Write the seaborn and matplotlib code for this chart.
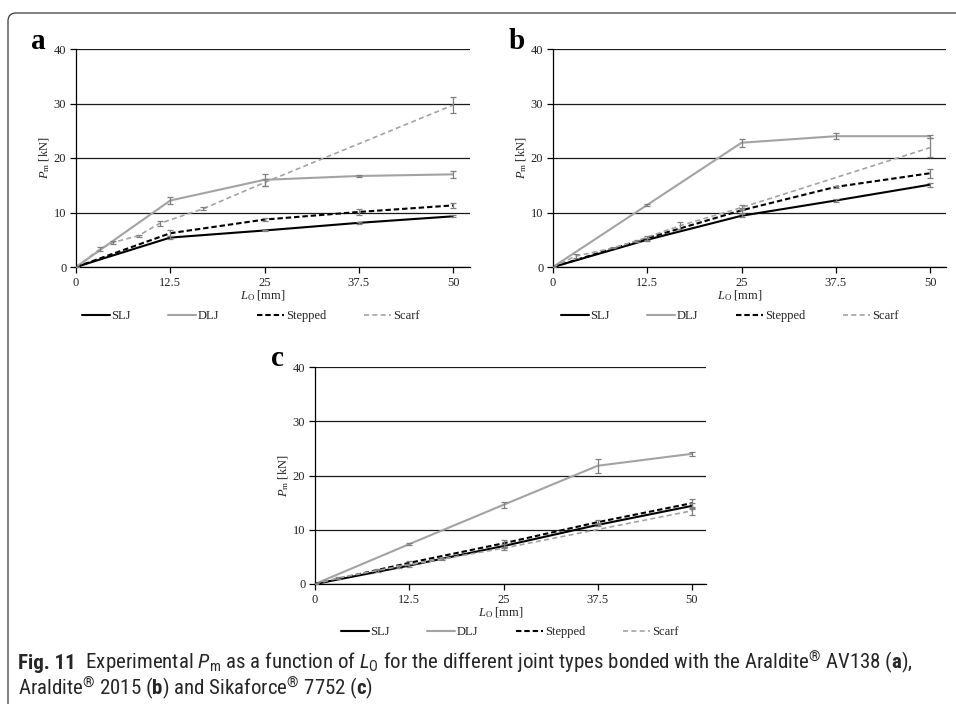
import matplotlib
matplotlib.use("Agg")
import matplotlib.pyplot as plt
import seaborn as sns
import numpy as np
from matplotlib import font_manager
from matplotlib.path import Path
from matplotlib.patches import PathPatch

# ---------------- data ----------------
x_main = [0, 12.5, 25, 37.5, 50]

a_slj = [0, 5.4, 6.7, 8.1, 9.3]
a_slj_err = [0, 0.3, 0.15, 0.15, 0.2]
a_dlj = [0, 12.2, 16.0, 16.7, 17.0]
a_dlj_err = [0, 0.6, 1.1, 0.1, 0.7]
a_stepped = [0, 6.2, 8.7, 10.1, 11.3]
a_stepped_err = [0, 0.5, 0.3, 0.5, 0.5]
a_scarf_x = [0, 3.2, 4.9, 8.3, 11.1, 16.9, 25, 50]
a_scarf = [0, 3.3, 4.5, 5.75, 8.0, 10.7, 15.5, 29.7]
a_scarf_err = [0, 0.4, 0.2, 0.2, 0.5, 0.3, 0.6, 1.5]

b_slj = [0, 5.0, 9.4, 12.2, 15.1]
b_slj_err = [0, 0.3, 0.3, 0.3, 0.4]
b_dlj = [0, 11.4, 22.8, 24.0, 24.0]
b_dlj_err = [0, 0.2, 0.7, 0.5, 0.3]
b_stepped = [0, 5.3, 10.4, 14.7, 17.2]
b_stepped_err = [0, 0.4, 0.4, 0.2, 0.8]
b_scarf_x = [0, 3.0, 8.0, 11.1, 16.9, 25, 50]
b_scarf = [0, 2.0, 3.5, 4.8, 7.6, 10.9, 21.9]
b_scarf_err = [0, 0.3, 0.1, 0.2, 0.7, 0.5, 1.7]

c_slj = [0, 3.4, 7.0, 10.9, 14.4]
c_slj_err = [0, 0.3, 0.3, 0.3, 0.5]
c_dlj = [0, 7.35, 14.6, 21.8, 24.0]
c_dlj_err = [0, 0.2, 0.6, 1.3, 0.4]
c_stepped = [0, 3.9, 7.5, 11.4, 14.9]
c_stepped_err = [0, 0.3, 0.6, 0.4, 0.8]
c_scarf_x = [0, 3.1, 8.3, 11.1, 16.9, 25, 50]
c_scarf = [0, 1.1, 2.5, 3.2, 4.6, 6.6, 13.5]
c_scarf_err = [0, 0.2, 0.2, 0.3, 0.2, 0.3, 0.7]

series_names = ["SLJ", "DLJ", "Stepped", "Scarf"]
x_ticks = [0, 12.5, 25, 37.5, 50]
x_tick_labels = ["0", "12.5", "25", "37.5", "50"]
y_ticks = [0, 10, 20, 30, 40]
panel_letters = ["a", "b", "c"]

# ---------------- fonts ----------------
sns.set_theme(style="white")
avail = {f.name for f in font_manager.fontManager.ttflist}
capfont = "Liberation Sans Narrow" if "Liberation Sans Narrow" in avail else (
    "Roboto Condensed" if "Roboto Condensed" in avail else "Liberation Sans")
plt.rcParams["font.family"] = ["Liberation Serif", "DejaVu Serif"]
plt.rcParams["mathtext.fontset"] = "custom"
plt.rcParams["mathtext.rm"] = "Liberation Serif"
plt.rcParams["mathtext.it"] = "Liberation Serif:italic"
plt.rcParams["mathtext.sf"] = capfont + ":italic"
plt.rcParams["mathtext.bf"] = capfont + ":bold"

W, H = 956, 704
fig = plt.figure(figsize=(W / 100, H / 100), dpi=100)
fig.patch.set_facecolor("white")


def fx(px):
    return px / W


def fy(py):
    return 1 - py / H


BLACK = "#000000"
GREY = "#a3a3a3"
ERRC = "#7f7f7f"
TXT = "#222222"
FS = 9

styles = {
    "SLJ": dict(color=BLACK, lw=1.5, linestyle="-"),
    "DLJ": dict(color=GREY, lw=1.5, linestyle="-"),
    "Stepped": dict(color=BLACK, lw=1.5, linestyle=(0, (2.6, 1.4))),
    "Scarf": dict(color=GREY, lw=1.2, linestyle=(0, (3.0, 2.0))),
}


def panel(rect, data, letter, letter_pos, legend_pos):
    # rect in pixels: left, top(y of 40), right, bottom(y of 0)
    l, t, r, b = rect
    ax = fig.add_axes([fx(l), fy(b), (r - l) / W, (b - t) / H])
    x50 = data["x50"]
    xmax = 50 * (r - l) / (x50 - l)
    for name in series_names:
        xs, ys, es = data[name]
        sns.lineplot(x=xs, y=ys, ax=ax, sort=False, errorbar=None,
                     label=name, **styles[name])
        ax.errorbar(xs, ys, yerr=es, fmt="none", ecolor=ERRC, elinewidth=0.9,
                    capsize=2, capthick=0.9, zorder=3)
    ax.set_xlim(0, xmax)
    ax.set_ylim(0, 40)
    ax.set_xticks(x_ticks)
    ax.set_xticklabels(x_tick_labels)
    ax.set_yticks(y_ticks)
    ax.yaxis.grid(True, color="#1a1a1a", lw=0.9)
    ax.xaxis.grid(False)
    ax.set_axisbelow(True)
    for s in ["top", "right"]:
        ax.spines[s].set_visible(False)
    for s in ["left", "bottom"]:
        ax.spines[s].set_color("black")
        ax.spines[s].set_linewidth(0.9)
    ax.tick_params(axis="both", direction="out", length=4, width=0.9,
                   colors="black", labelsize=FS, pad=3, left=True, bottom=True)
    for lab in ax.get_xticklabels() + ax.get_yticklabels():
        lab.set_color(TXT)
    ax.set_ylabel(r"$P_\mathrm{m}$ [kN]", fontsize=FS, color=TXT)
    ax.set_xlabel(r"$L_\mathrm{O}$ [mm]", fontsize=FS, color=TXT)
    ax.yaxis.set_label_coords(-24 / (r - l), 0.5)
    ax.xaxis.set_label_coords(0.475, -21 / (b - t))
    ax.xaxis.label.set_va("top")
    fig.text(fx(letter_pos[0]), fy(letter_pos[1]), letter, fontsize=21,
             fontweight="bold", ha="left", va="baseline", color="black")
    ax.legend(loc="center left", bbox_to_anchor=(fx(legend_pos[0]), fy(legend_pos[1])),
              bbox_transform=fig.transFigure, ncol=4, frameon=False,
              borderpad=0, borderaxespad=0, handlelength=2.2, handletextpad=0.15,
              columnspacing=3.0, fontsize=FS, labelcolor=TXT)
    return ax


data_a = {"x50": 453, "SLJ": (x_main, a_slj, a_slj_err), "DLJ": (x_main, a_dlj, a_dlj_err),
          "Stepped": (x_main, a_stepped, a_stepped_err),
          "Scarf": (a_scarf_x, a_scarf, a_scarf_err)}
data_b = {"x50": 930, "SLJ": (x_main, b_slj, b_slj_err), "DLJ": (x_main, b_dlj, b_dlj_err),
          "Stepped": (x_main, b_stepped, b_stepped_err),
          "Scarf": (b_scarf_x, b_scarf, b_scarf_err)}
data_c = {"x50": 692, "SLJ": (x_main, c_slj, c_slj_err), "DLJ": (x_main, c_dlj, c_dlj_err),
          "Stepped": (x_main, c_stepped, c_stepped_err),
          "Scarf": (c_scarf_x, c_scarf, c_scarf_err)}

panel((76, 49, 470, 267), data_a, panel_letters[0], (31, 49), (82, 316))
panel((553, 49, 946, 267), data_b, panel_letters[1], (509, 49), (561, 316))
panel((315, 367, 706, 584), data_c, panel_letters[2], (271, 366), (341, 632))

# ---------------- frame ----------------
verts = [(fx(8), 0), (fx(8), fy(21)), (fx(8), fy(13)), (fx(16), fy(13)), (1.0, fy(13))]
codes = [Path.MOVETO, Path.LINETO, Path.CURVE3, Path.CURVE3, Path.LINETO]
fig.add_artist(PathPatch(Path(verts, codes), transform=fig.transFigure,
                         fill=False, edgecolor="#3a3a3a", lw=0.9))

# ---------------- caption ----------------
capfs = 10.5
CAPC = "#262626"
t_bold = fig.text(fx(18), fy(669), "Fig. 11", fontsize=capfs, fontweight="bold",
                  family=capfont, color=CAPC, va="baseline", ha="left")
line1 = (r"  Experimental $\mathsf{P}_\mathregular{m}$ as a function of "
         r"$\mathsf{L}_\mathregular{O}$ for the different joint types bonded with the "
         r"Araldite$^{\mathregular{®}}$ AV138 ($\mathbf{a}$),")
line2 = (r"Araldite$^{\mathregular{®}}$ 2015 ($\mathbf{b}$) and "
         r"Sikaforce$^{\mathregular{®}}$ 7752 ($\mathbf{c}$)")
t_l1 = fig.text(fx(60), fy(669), line1, fontsize=capfs, family=capfont,
                color=CAPC, va="baseline", ha="left")
t_l2 = fig.text(fx(18), fy(695), line2, fontsize=capfs, family=capfont,
                color=CAPC, va="baseline", ha="left")
fig.canvas.draw()
rend = fig.canvas.get_renderer()
wb = t_bold.get_window_extent(rend).width
w1 = t_l1.get_window_extent(rend).width
scale = (918 - 18) / (wb + w1)
for t in (t_bold, t_l1, t_l2):
    t.set_fontsize(capfs * scale)
fig.canvas.draw()
wb = t_bold.get_window_extent(rend).width
t_l1.set_x(fx(18 + wb))

fig.savefig("out.png", dpi=100, facecolor="white")
